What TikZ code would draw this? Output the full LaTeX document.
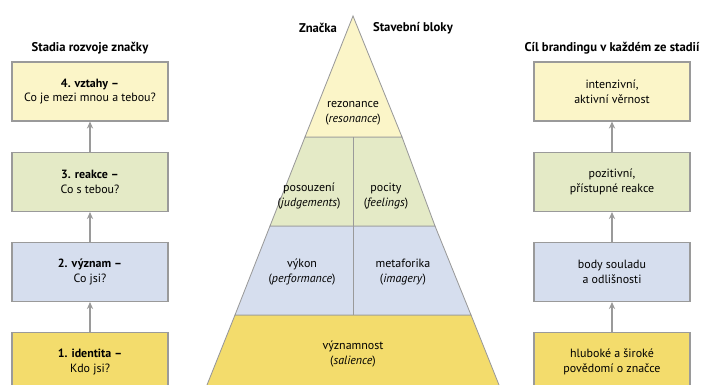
\documentclass[tikz,border=0pt]{standalone}
\usepackage{fontspec}
\setmainfont{PT Sans}
\usetikzlibrary{arrows.meta}
\definecolor{paleyellow}{HTML}{FBF5C8}
\definecolor{palegreen}{HTML}{E4EAC6}
\definecolor{paleblue}{HTML}{D6DEEE}
\definecolor{deepyellow}{HTML}{F3DC6C}
\definecolor{edgegray}{HTML}{9A9A9A}
\tikzset{
  stagebox/.style={draw=edgegray, line width=0.8pt, minimum width=3.9cm, minimum height=1.475cm, align=center, font=\fontsize{8.5}{10.5}\selectfont},
  uparrow/.style={draw=edgegray, line width=1.4pt, -{Stealth[length=5pt,width=4.5pt]}},
  layer/.style={draw=edgegray, line width=0.6pt},
  laytext/.style={align=center, font=\fontsize{8.5}{10.5}\selectfont},
  heading/.style={font=\bfseries\fontsize{9}{11}\selectfont}
}
\begin{document}
\begin{tikzpicture}[x=0.025cm,y=-0.025cm]
   \useasboundingbox (0,0) rectangle (703,385);
   \clip (0,0) rectangle (703,385);
   % pyramid
   \draw [layer, fill=deepyellow] (235,315)--(471,315)--(503,395)--(203,395)--cycle;
   \draw [layer, fill=paleblue] (270,226)--(435,226)--(471,315)--(235,315)--cycle;
   \draw [layer, fill=palegreen] (305,137)--(402,137)--(435,226)--(270,226)--cycle;
   \draw [layer, fill=paleyellow] (353,16)--(402,137)--(305,137)--cycle;
   \draw [layer] (353,137)--(353,315);
   \node (rez) at (353,113) [laytext] {rezonance\\(\textit{resonance})};
   \node (pos) at (309,196) [laytext] {posouzení\\(\textit{judgements})};
   \node (poc) at (386,196) [laytext] {pocity\\(\textit{feelings})};
   \node (vyk) at (302,272) [laytext] {výkon\\(\textit{performance})};
   \node (met) at (403,272) [laytext] {metaforika\\(\textit{imagery})};
   \node (vyz) at (353,354) [laytext] {významnost\\(\textit{salience})};
   \node (znacka) at (318,28) [heading] {Značka};
   \node (bloky) at (413,28) [heading] {Stavební bloky};
   % left column
   \node (stadia) at (90,48) [heading] {Stadia rozvoje značky};
   \node (s4) at (90,91.5) [stagebox, fill=paleyellow] {\textbf{4. vztahy –}\\Co je mezi mnou a tebou?};
   \node (s3) at (90,182) [stagebox, fill=palegreen] {\textbf{3. reakce –}\\Co s tebou?};
   \node (s2) at (90,272) [stagebox, fill=paleblue] {\textbf{2. význam –}\\Co jsi?};
   \node (s1) at (90,362) [stagebox, fill=deepyellow] {\textbf{1. identita –}\\Kdo jsi?};
   \draw [uparrow] (s1)--(s2); \draw [uparrow] (s2)--(s3); \draw [uparrow] (s3)--(s4);
   % right column
   \node (cil) at (612,48) [heading] {Cíl brandingu v každém ze stadií};
   \node (c4) at (612,91.5) [stagebox, fill=paleyellow] {intenzivní,\\aktivní věrnost};
   \node (c3) at (612,182) [stagebox, fill=palegreen] {pozitivní,\\přístupné reakce};
   \node (c2) at (612,272) [stagebox, fill=paleblue] {body souladu\\a odlišnosti};
   \node (c1) at (612,362) [stagebox, fill=deepyellow] {hluboké a široké\\povědomí o značce};
   \draw [uparrow] (c1)--(c2); \draw [uparrow] (c2)--(c3); \draw [uparrow] (c3)--(c4);
\end{tikzpicture}
\end{document}
